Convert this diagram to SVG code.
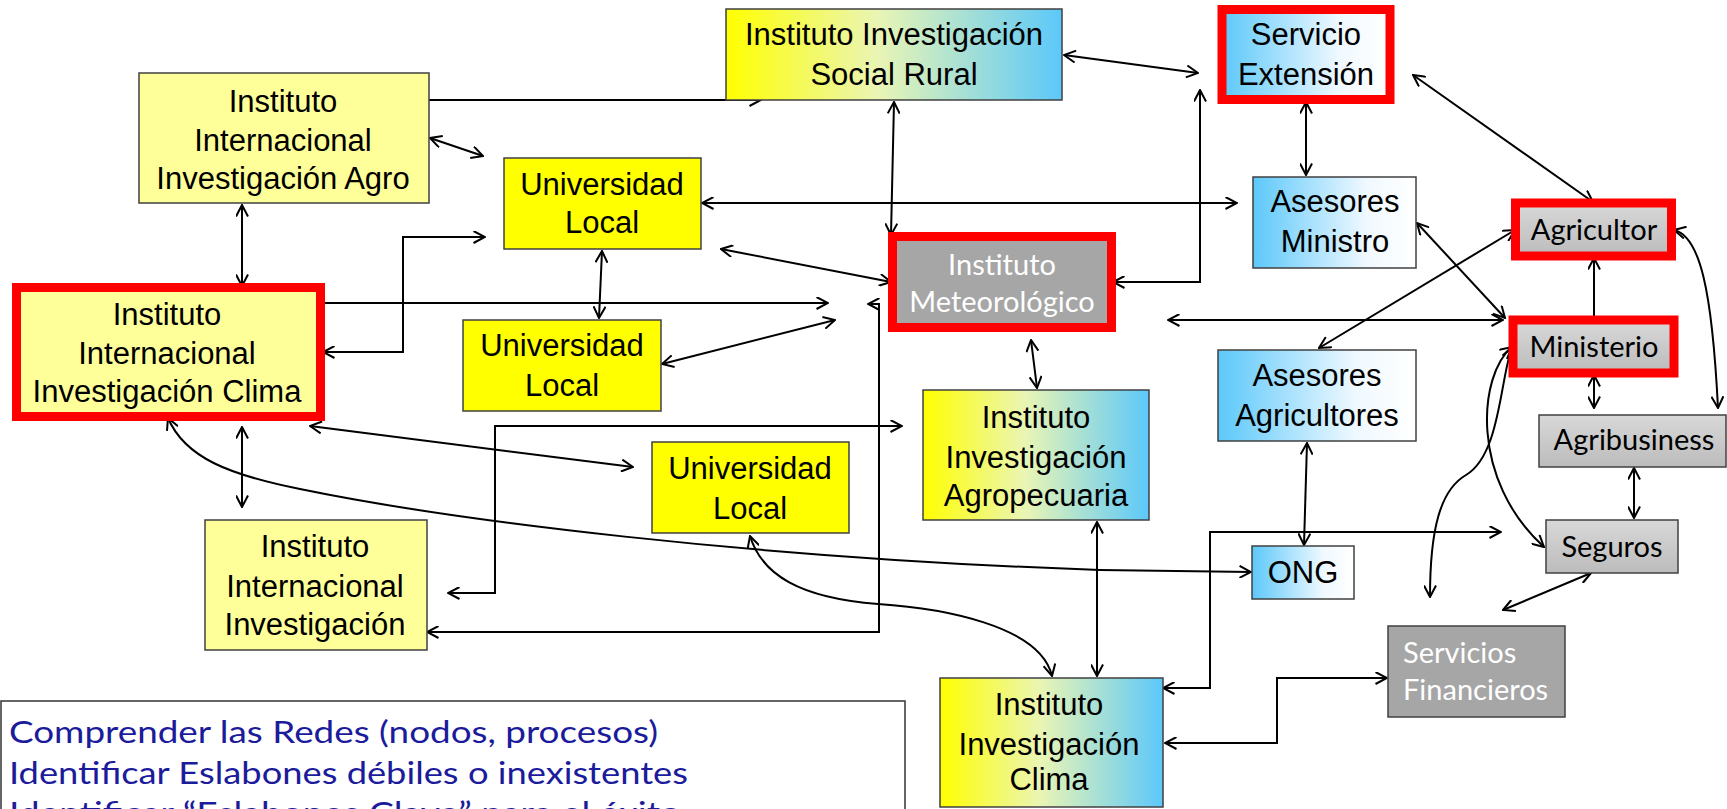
<svg xmlns="http://www.w3.org/2000/svg" width="1727" height="809" viewBox="0 0 1727 809">
<style>
.n{stroke:#404040;stroke-width:1.5}
.r{stroke:#FF0000;stroke-width:9}
.t{font-family:"Liberation Sans",Arial,sans-serif;font-size:31px;fill:#000;text-anchor:middle}
.c{font-family:Lato,"Open Sans",sans-serif;font-size:29px;text-anchor:middle}
.w{fill:#FFFFFF}
.k{fill:#000}
.b{font-family:Lato,"Open Sans",sans-serif;font-size:31px;fill:#1B1B9B}
#conn path{fill:none;stroke:#000;stroke-width:2;marker-start:url(#a);marker-end:url(#a)}
#conn path.e{marker-start:none}
</style>
<defs>
<marker id="a" viewBox="0 0 13 13" refX="12" refY="6.5" markerWidth="13" markerHeight="13" markerUnits="userSpaceOnUse" orient="auto-start-reverse">
<path d="M0.5,0.5 L12,6.5 L0.5,12.5" fill="none" stroke="#000" stroke-width="2"/>
</marker>
<linearGradient id="yb" x1="0" y1="0" x2="1" y2="0">
<stop offset="0" stop-color="#FFFF00"/>
<stop offset="0.45" stop-color="#EAF5B4"/>
<stop offset="1" stop-color="#5CC8FA"/>
</linearGradient>
<linearGradient id="bw" x1="0" y1="0" x2="1" y2="0">
<stop offset="0" stop-color="#5CC8FA"/>
<stop offset="0.7" stop-color="#F0F9FF"/>
<stop offset="1" stop-color="#FFFFFF"/>
</linearGradient>
<linearGradient id="g" x1="0" y1="0" x2="0" y2="1">
<stop offset="0" stop-color="#D8D8D8"/>
<stop offset="1" stop-color="#BCBCBC"/>
</linearGradient>
</defs>
<rect width="1727" height="809" fill="#FFFFFF"/>

<g id="conn">
<path class="e" d="M423,100 H761"/>
<path d="M430,138 L483,156"/>
<path d="M242,205 V286"/>
<path d="M323,352 H403 V237 H485"/>
<path d="M310,303 H828"/>
<path d="M310,426 L633,467"/>
<path d="M242,427 V507"/>
<path d="M168,418 C185,458 230,475 300,489 C450,520 750,558 1100,570 L1251,572"/>
<path d="M448,593 H495 V426 H902"/>
<path d="M427,632 H879 V304 H868"/>
<path d="M1064,55 L1198,73"/>
<path d="M894,102 L891,235"/>
<path d="M702,203 H1237"/>
<path d="M721,249 L891,282"/>
<path d="M602,251 L599,318"/>
<path d="M662,364 L835,320"/>
<path d="M1113,282 H1200 V90"/>
<path d="M1168,320 H1503"/>
<path d="M1031,340 L1037,388"/>
<path d="M1097,522 V676"/>
<path d="M750,536 C762,575 800,598 878,604 C940,608 1040,625 1052,676"/>
<path d="M1306,102 V175"/>
<path d="M1413,75 L1593,202"/>
<path d="M1417,223 L1505,318"/>
<path d="M1515,230 L1319,348"/>
<path class="e" d="M1594,318 V258"/>
<path d="M1674,230 C1700,236 1712,290 1718,408"/>
<path d="M1594,375 V408"/>
<path d="M1512,347 C1478,375 1470,480 1544,547"/>
<path d="M1512,347 C1500,380 1500,455 1466,475 C1440,490 1430,530 1430,597"/>
<path d="M1307,443 L1304,545"/>
<path d="M1163,688 H1210 V532 H1501"/>
<path d="M1165,743 H1277 V678 H1387"/>
<path d="M1591,573 L1503,610"/>
<path d="M1634,468 V518"/>
</g>

<g id="n-agro"><rect class="n" x="139" y="73" width="290" height="130" fill="#FFFF99"/>
<text class="t" x="283" y="112">Instituto</text><text class="t" x="283" y="151">Internacional</text><text class="t" x="283" y="189">Investigación Agro</text></g>

<g id="n-iiclima"><rect class="r" x="16.5" y="287.5" width="304" height="129" fill="#FFFF99"/>
<text class="t" x="167" y="325">Instituto</text><text class="t" x="167" y="364">Internacional</text><text class="t" x="167" y="402">Investigación Clima</text></g>

<g id="n-iii"><rect class="n" x="205" y="520" width="222" height="130" fill="#FFFF99"/>
<text class="t" x="315" y="557">Instituto</text><text class="t" x="315" y="597">Internacional</text><text class="t" x="315" y="635">Investigación</text></g>

<g id="n-social"><rect class="n" x="726" y="9" width="336" height="91" fill="url(#yb)"/>
<text class="t" x="894" y="45">Instituto Investigación</text><text class="t" x="894" y="85">Social Rural</text></g>

<g id="n-uni1"><rect class="n" x="504" y="158" width="197" height="91" fill="#FFFF00"/>
<text class="t" x="602" y="195">Universidad</text><text class="t" x="602" y="233">Local</text></g>

<g id="n-uni2"><rect class="n" x="463" y="320" width="198" height="91" fill="#FFFF00"/>
<text class="t" x="562" y="356">Universidad</text><text class="t" x="562" y="396">Local</text></g>

<g id="n-uni3"><rect class="n" x="652" y="442" width="197" height="91" fill="#FFFF00"/>
<text class="t" x="750" y="479">Universidad</text><text class="t" x="750" y="519">Local</text></g>

<g id="n-meteo"><rect class="r" x="892.5" y="236.5" width="219" height="91" fill="#A6A6A6"/>
<text class="c w" x="1002" y="275">Instituto</text><text class="c w" x="1002" y="312">Meteorológico</text></g>

<g id="n-agropec"><rect class="n" x="923" y="390" width="226" height="130" fill="url(#yb)"/>
<text class="t" x="1036" y="428">Instituto</text><text class="t" x="1036" y="468">Investigación</text><text class="t" x="1036" y="506">Agropecuaria</text></g>

<g id="n-iclima"><rect class="n" x="940" y="678" width="223" height="129" fill="url(#yb)"/>
<text class="t" x="1049" y="715">Instituto</text><text class="t" x="1049" y="755">Investigación</text><text class="t" x="1049" y="790">Clima</text></g>

<g id="n-servicio"><rect class="r" x="1222" y="9.5" width="168" height="90" stroke-width="8.5" fill="url(#bw)"/>
<text class="t" x="1306" y="45">Servicio</text><text class="t" x="1306" y="85">Extensión</text></g>

<g id="n-asmin"><rect class="n" x="1253" y="177" width="163" height="91" fill="url(#bw)"/>
<text class="t" x="1335" y="212">Asesores</text><text class="t" x="1335" y="252">Ministro</text></g>

<g id="n-asagr"><rect class="n" x="1218" y="350" width="198" height="91" fill="url(#bw)"/>
<text class="t" x="1317" y="386">Asesores</text><text class="t" x="1317" y="426">Agricultores</text></g>

<g id="n-ong"><rect class="n" x="1252" y="546" width="102" height="53" fill="url(#bw)"/>
<text class="t" x="1303" y="583">ONG</text></g>

<g id="n-agricultor"><rect class="r" x="1515.5" y="203" width="156" height="53" stroke-width="8.5" fill="url(#g)"/>
<text class="c k" x="1594" y="240">Agricultor</text></g>

<g id="n-ministerio"><rect class="r" x="1513" y="320" width="161" height="53" stroke-width="8.5" fill="url(#g)"/>
<text class="c k" x="1594" y="357">Ministerio</text></g>

<g id="n-agribusiness"><rect class="n" x="1539" y="415" width="187" height="52" fill="url(#g)"/>
<text class="c k" x="1634" y="450">Agribusiness</text></g>

<g id="n-seguros"><rect class="n" x="1546" y="520" width="132" height="53" fill="url(#g)"/>
<text class="c k" x="1612" y="557">Seguros</text></g>

<g id="n-finan"><rect class="n" x="1388" y="626" width="177" height="91" fill="#A6A6A6"/>
<text class="c w" x="1403" y="663" style="text-anchor:start">Servicios</text><text class="c w" x="1403" y="700" style="text-anchor:start">Financieros</text></g>

<g id="note"><rect x="1" y="701" width="904" height="120" fill="none" stroke="#333" stroke-width="1.5"/>
<text class="b" x="9" y="743" textLength="649" lengthAdjust="spacingAndGlyphs">Comprender las Redes (nodos, procesos)</text>
<text class="b" x="9" y="784" textLength="679" lengthAdjust="spacingAndGlyphs">Identificar Eslabones débiles o inexistentes</text>
<text class="b" x="9" y="824" textLength="672" lengthAdjust="spacingAndGlyphs">Identificar “Eslabones Clave” para el éxito</text></g>
</svg>
